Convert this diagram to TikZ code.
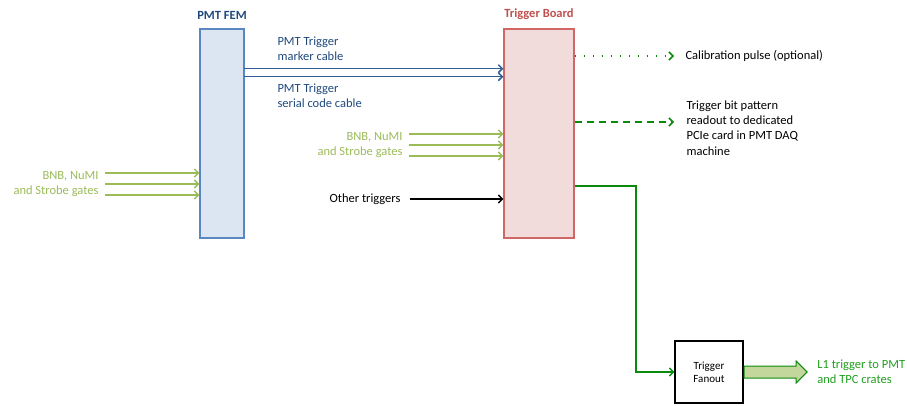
\documentclass[tikz,border=0pt]{standalone}
\usepackage{fontspec}
\setmainfont{Carlito}
\usetikzlibrary{positioning, arrows.meta, shapes.arrows}

\definecolor{femfill}{HTML}{DCE6F2}
\definecolor{femline}{HTML}{5B87C0}
\definecolor{femtext}{HTML}{1F497D}
\definecolor{cableblue}{HTML}{2F5D96}
\definecolor{boardfill}{HTML}{F2DCDB}
\definecolor{boardline}{HTML}{D06666}
\definecolor{boardtext}{HTML}{C0504D}
\definecolor{gatesgreen}{HTML}{9BBB59}
\definecolor{outgreen}{HTML}{0A8A0A}
\definecolor{l1text}{HTML}{1F9F1F}
\definecolor{bigfill}{HTML}{C3D69B}

\tikzset{
    module/.style={draw, line width=1.2pt, minimum width=#1, minimum height=209pt},
    title/.style={font=\fontsize{12.5}{15.3}\selectfont\bfseries, inner sep=0pt},
    cable/.style={->, line width=1.5pt, cableblue},
    gate/.style={->, line width=1.5pt, gatesgreen},
    outline/.style={->, line width=1.5pt, outgreen}
}

\begin{document}
\begin{tikzpicture}[x=1pt, y=-1pt, >={Straight Barb[length=4pt, width=8pt]},
        font=\fontsize{12.5}{15.3}\selectfont]

        \useasboundingbox (0,0) rectangle (907,405);

        \node[module=44pt, fill=femfill, draw=femline] (fem) at (222,133.5) {};
        \node[module=70pt, fill=boardfill, draw=boardline] (tb) at (539,133.5) {};
        \node[title, text=femtext, above=9pt of fem] (femlabel) {PMT FEM};
        \node[title, text=boardtext, above=9pt of tb] (tblabel) {Trigger Board};

        \node[draw, line width=1.2pt, minimum width=68pt, minimum height=62pt,
              align=center, font=\fontsize{11}{13}\selectfont] (fan) at (709,372) {Trigger\\Fanout};

        % cables from the FEM
        \coordinate (marker) at (244,68.7);
        \coordinate (serial) at (244,76.7);
        \draw[cable] (marker) -- (marker -| tb.west);
        \draw[cable] (serial) -- (serial -| tb.west);
        \node[anchor=west, align=left, text=femtext] (markerlabel) at (274,48.5) {PMT Trigger\\marker cable};
        \node[anchor=west, align=left, text=femtext] (seriallabel) at (274,95.5) {PMT Trigger\\serial code cable};

        % gates
        \node[anchor=east, align=right, text=gatesgreen] (gatesfem) at (102,184) {BNB, NuMI\\and Strobe gates};
        \foreach \y [count=\i] in {173,184,195} {
            \coordinate (gf\i) at (105,\y);
            \draw[gate] (gf\i) -- (gf\i -| fem.west);
        }
        \node[anchor=east, align=right, text=gatesgreen] (gatestb) at (406,145) {BNB, NuMI\\and Strobe gates};
        \foreach \y [count=\i] in {134,145,156} {
            \coordinate (gt\i) at (409,\y);
            \draw[gate] (gt\i) -- (gt\i -| tb.west);
        }

        \node[anchor=east] (other) at (404,199) {Other triggers};
        \draw[->, line width=1.5pt, shorten <=6pt] (other.east) -- (other -| tb.west);

        % outputs of the trigger board
        \node[anchor=west] (calib) at (682,56) {Calibration pulse (optional)};
        \draw[outline, dash pattern=on 1.5pt off 7.5pt, shorten >=8pt] (calib -| tb.east) -- (calib.west);

        \coordinate (readend) at (674,122);
        \node[anchor=west, align=left] (readout) at (683,128) {Trigger bit pattern\\readout to dedicated\\PCIe card in PMT DAQ\\machine};
        \draw[outline, dash pattern=on 7pt off 5pt] (readend -| tb.east) -- (readend);

        \coordinate (bend) at (636,186);
        \draw[outline] (bend -| tb.east) -- (bend) |- (fan.west);

        \node[single arrow, draw=outgreen, fill=bigfill, line width=1pt, anchor=west,
              minimum height=63pt, inner xsep=0pt, inner ysep=5.5pt,
              single arrow head extend=5pt] (l1arrow) at (fan.east) {};
        \node[right=6pt of l1arrow, align=left, text=l1text] (l1label) {L1 trigger to PMT\\and TPC crates};

    \end{tikzpicture}
\end{document}
